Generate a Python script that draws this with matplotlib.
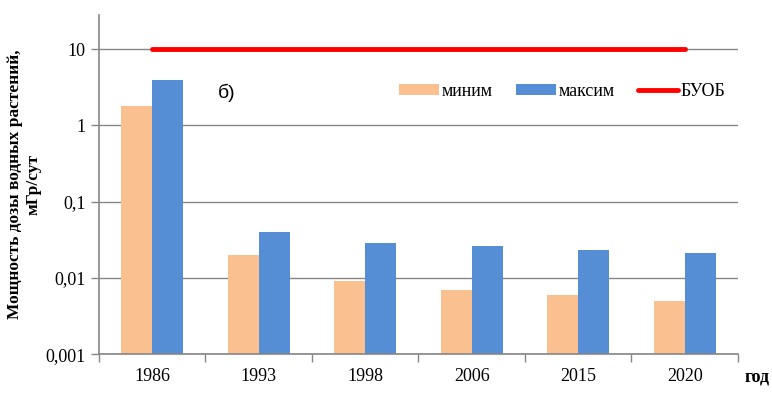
import numpy as np
import matplotlib.pyplot as plt
from matplotlib.ticker import FixedLocator, NullFormatter

years = ['1986', '1993', '1998', '2006', '2015', '2020']
min_vals = [1.8, 0.02, 0.009, 0.007, 0.006, 0.005]
max_vals = [4.0, 0.04, 0.029, 0.026, 0.023, 0.021]
buob = [10, 10, 10, 10, 10, 10]
yticks = [0.001, 0.01, 0.1, 1, 10]
ytick_labels = ['0,001', '0,01', '0,1', '1', '10']


def main():
    plt.rcParams['font.family'] = ['Liberation Serif', 'DejaVu Serif']
    fig = plt.figure(figsize=(7.72, 3.97), dpi=100)
    ax = fig.add_axes([0.128, 0.108, 0.828, 0.854])

    x = np.arange(len(years))
    w = 0.29
    b1 = ax.bar(x - w / 2, min_vals, w, color='#FAC090', label='миним', zorder=2)
    b2 = ax.bar(x + w / 2, max_vals, w, color='#558ED5', label='максим', zorder=2)
    l1, = ax.plot(x, buob, color='#FF0000', lw=3.5, solid_capstyle='round',
                  label='БУОБ', zorder=3)

    ax.set_yscale('log')
    ax.set_ylim(0.001, 28)
    ax.set_xlim(-0.5, len(years) - 0.5)
    ax.set_yticks(yticks)
    ax.set_yticklabels(ytick_labels)
    ax.yaxis.set_minor_locator(FixedLocator([]))
    ax.yaxis.set_minor_formatter(NullFormatter())
    ax.grid(axis='y', color='#868686', lw=1, zorder=0)

    ax.set_xticks(x)
    ax.set_xticklabels(years)
    ax.set_xticks(np.arange(len(years) + 1) - 0.5, minor=True)
    ax.tick_params(axis='x', which='major', length=0, pad=10, labelsize=13)
    ax.tick_params(axis='x', which='minor', length=6, color='#868686', width=1)
    ax.tick_params(axis='y', length=6, color='#868686', width=1, labelsize=13)

    for s in ['top', 'right']:
        ax.spines[s].set_visible(False)
    for s in ['left', 'bottom']:
        ax.spines[s].set_color('#868686')
        ax.spines[s].set_linewidth(1.2)

    ax.set_ylabel('Мощность дозы водных растений,\nмГр/сут', fontsize=12.5,
                  fontweight='bold', labelpad=3)
    fig.text(0.964, 0.04, 'год', fontsize=13, fontweight='bold', ha='left')
    ax.text(0.62, 2.3, 'б)', fontsize=14, family=['Liberation Sans', 'DejaVu Sans'])

    ax.legend([b1, b2, l1], ['миним', 'максим', 'БУОБ'],
              loc='center left', bbox_to_anchor=(0.47, 0.775), ncol=3,
              frameon=False, fontsize=13, handlelength=2.2, handleheight=0.5,
              columnspacing=1.3, handletextpad=0.15, borderaxespad=0,
              borderpad=0)

    fig.savefig('out.png', dpi=100)


if __name__ == "__main__":
    main()
